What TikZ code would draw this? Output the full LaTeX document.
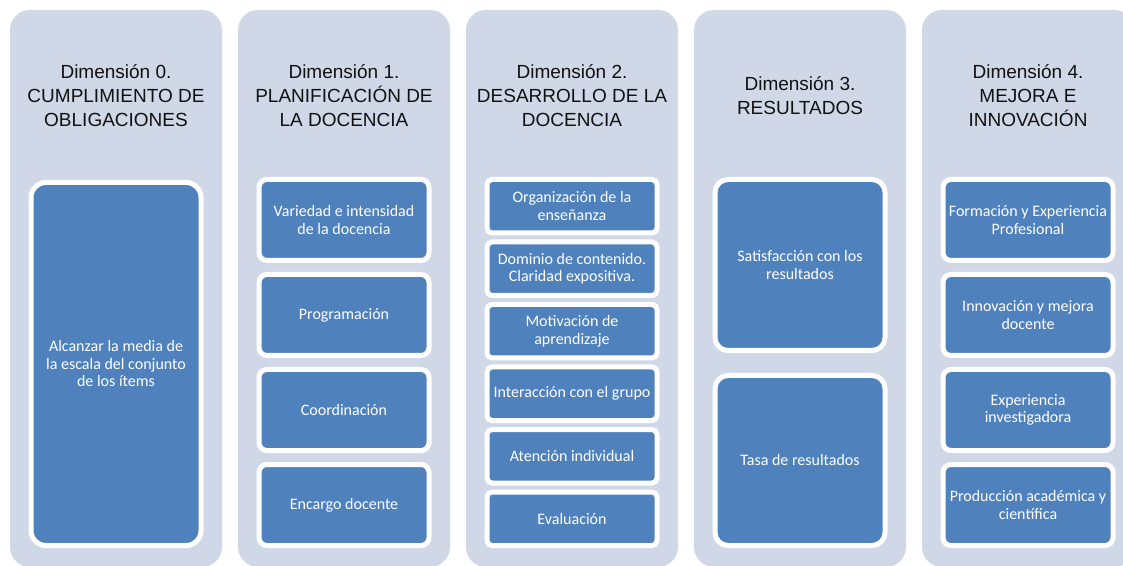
\documentclass[tikz,border=0pt]{standalone}
\usepackage{fontspec}
\setmainfont{Liberation Sans}
\newfontfamily\boxfont{Carlito}
\definecolor{colbg}{HTML}{D0D8E8}
\definecolor{boxblue}{HTML}{4F81BD}
\definecolor{headtxt}{HTML}{111111}
\begin{document}
\begin{tikzpicture}[x=1pt,y=1pt,
  col/.style={fill=colbg, rounded corners=20pt, minimum width=212pt, minimum height=557pt, inner sep=0pt},
  head/.style={font=\fontsize{19}{24}\selectfont, text=headtxt, align=center, inner sep=0pt},
  bx/.style={draw=white, line width=5pt, fill=boxblue, text=white,
    font=\boxfont\fontsize{16}{17.5}\selectfont, align=center, inner sep=0pt, minimum width=170pt},
  bx0/.style={bx, rounded corners=15pt, minimum height=363pt},
  bx1/.style={bx, rounded corners=8pt, minimum height=81pt},
  bx2/.style={bx, rounded corners=5pt, minimum height=53.5pt},
  bx3/.style={bx, rounded corners=13pt}
]
\useasboundingbox (0,0) rectangle (1123,565);
\clip (0,0) rectangle (1123,565);
% columns
\node[col] (c0) at (116,276.5) {};
\node[col] (c1) at (344,276.5) {};
\node[col] (c2) at (572,276.5) {};
\node[col] (c3) at (800,276.5) {};
\node[col] (c4) at (1028,276.5) {};
% headers
\node[head] (h0) at (116,469) {Dimensión 0.\\CUMPLIMIENTO DE\\OBLIGACIONES};
\node[head] (h1) at (344,469) {Dimensión 1.\\PLANIFICACIÓN DE\\LA DOCENCIA};
\node[head] (h2) at (572,469) {Dimensión 2.\\DESARROLLO DE LA\\DOCENCIA};
\node[head] (h3) at (800,469) {Dimensión 3.\\RESULTADOS};
\node[head] (h4) at (1028,469) {Dimensión 4.\\MEJORA E\\INNOVACIÓN};
% column 0
\node[bx0] (b00) at (116,201) {Alcanzar la media de\\la escala del conjunto\\de los ítems};
% column 1
\node[bx1] (b10) at (344,345) {Variedad e intensidad\\de la docencia};
\node[bx1] (b11) at (344,250) {Programación};
\node[bx1] (b12) at (344,155) {Coordinación};
\node[bx1] (b13) at (344,60) {Encargo docente};
% column 2
\node[bx2] (b20) at (572,358.75) {Organización de la\\enseñanza};
\node[bx2] (b21) at (572,296.25) {Dominio de contenido.\\Claridad expositiva.};
\node[bx2] (b22) at (572,233.75) {Motivación de\\aprendizaje};
\node[bx2] (b23) at (572,171.25) {Interacción con el grupo};
\node[bx2] (b24) at (572,108.75) {Atención individual};
\node[bx2] (b25) at (572,46.25) {Evaluación};
% column 3
\node[bx3, minimum height=171pt] (b30) at (800,300) {Satisfacción con los\\resultados};
\node[bx3, minimum height=170pt] (b31) at (800,104.5) {Tasa de resultados};
% column 4
\node[bx1] (b40) at (1028,345) {Formación y Experiencia\\Profesional};
\node[bx1] (b41) at (1028,250) {Innovación y mejora\\docente};
\node[bx1] (b42) at (1028,155) {Experiencia\\investigadora};
\node[bx1] (b43) at (1028,60) {Producción académica y\\científica};
\end{tikzpicture}
\end{document}
